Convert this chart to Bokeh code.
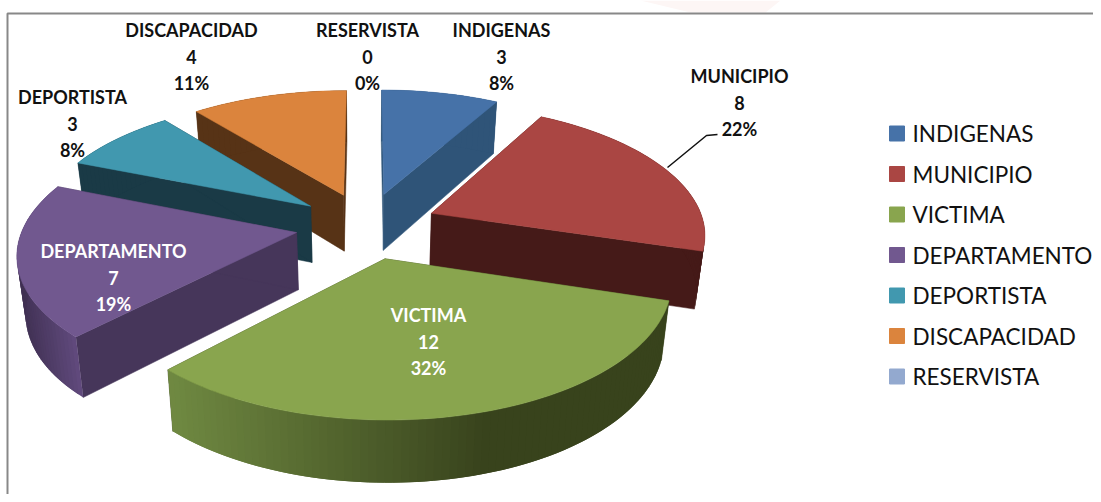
import math
from bokeh.plotting import figure
from bokeh.embed import file_html
from bokeh.resources import INLINE
from bokeh.core.properties import value

categories = ["INDIGENAS", "MUNICIPIO", "VICTIMA", "DEPARTAMENTO", "DEPORTISTA", "DISCAPACIDAD", "RESERVISTA"]
counts = [3, 8, 12, 7, 3, 4, 0]
percents = ["8%", "22%", "32%", "19%", "8%", "11%", "0%"]

top_colors = ["#4672A8", "#AA4643", "#89A54E", "#71588F", "#4198AF", "#DB843D", "#93A9CF"]
face_colors = ["#2F5478", "#451A18", "#3A451D", "#46365A", "#1A3A46", "#573316", "#6C7C99"]
arc_left = ["#2F5478", "#451A18", "#708A42", "#3F3052", "#1A3A46", "#573316", "#6C7C99"]
arc_right = ["#2F5478", "#451A18", "#38431C", "#634C80", "#1A3A46", "#573316", "#6C7C99"]
label_colors = ["#111111", "#111111", "#FFFFFF", "#FFFFFF", "#111111", "#111111", "#111111"]
label_x = [501, 739, 428, 113, 72, 191, 367]
label_y = [29.5, 75.5, 314.5, 250.5, 96.5, 29.5, 29.5]
draw_order = [0, 5, 4, 1, 3, 2, 6]

# projection of the tilted pie
CX, CY, A, B, K, EXPLODE, DEPTH = 366, 225, 273, 127.6, 0.143, 0.26, 57


def project(u, v, z=0.0):
    s = 1 / (1 + K * v)
    x = CX + A * u * s * (1 - 0.025 * z)
    y = CY - B * v * s + DEPTH * z * (1 - 0.08 * v)
    return x, y


def mix(c1, c2, t):
    a = [int(c1[i:i + 2], 16) for i in (1, 3, 5)]
    b = [int(c2[i:i + 2], 16) for i in (1, 3, 5)]
    return "#%02X%02X%02X" % tuple(round(p + (q - p) * t) for p, q in zip(a, b))


total = sum(counts)
starts = []
acc = 0
for c in counts:
    starts.append(acc / total * 2 * math.pi)
    acc += c

p = figure(width=1093, height=494, output_backend="svg", toolbar_location=None,
           x_range=(0, 1093), y_range=(494, 0), min_border=0,
           x_axis_type=None, y_axis_type=None, outline_line_color=None,
           background_fill_color="white", border_fill_color="white")
p.grid.visible = False

# faint watermark remnant above the frame
p.patch([640, 780, 765, 690], [0, 0, 12, 12], fill_color="#FDF6F5", line_color=None)

# frame
p.line([7, 7, 1093], [494, 13, 13], line_color="#888888", line_width=2)

for i in draw_order:
    if counts[i] == 0:
        continue
    t0 = starts[i]
    dt = counts[i] / total * 2 * math.pi
    mid = t0 + dt / 2
    ox, oy = EXPLODE * math.sin(mid), EXPLODE * math.cos(mid)
    n = max(int(dt * 40), 8)
    arc = [(ox + math.sin(t0 + dt * j / n), oy + math.cos(t0 + dt * j / n)) for j in range(n + 1)]

    # radial side faces
    for end in (arc[0], arc[-1]):
        pts = [project(ox, oy), project(*end), project(*end, 1), project(ox, oy, 1)]
        p.patch([q[0] for q in pts], [q[1] for q in pts], fill_color=face_colors[i],
                line_color=face_colors[i], line_width=0.5)

    # outer wall, shaded along its length; each piece overlaps the next to hide seams
    for j in range(n):
        a0, a1 = arc[j], arc[min(j + 2, n)]
        pts = [project(*a0), project(*a1), project(*a1, 1), project(*a0, 1)]
        xm = sum(q[0] for q in pts) / 4
        if i == 2:
            tt = min(max((xm - 165) / 315, 0), 1)
        elif i == 3:
            tt = min(max((xm - 20) / 60, 0), 1)
        else:
            tt = 0
        col = mix(arc_left[i], arc_right[i], tt)
        p.patch([q[0] for q in pts], [q[1] for q in pts], fill_color=col, line_color=None)

    # top surface
    pts = [project(ox, oy)] + [project(*a) for a in arc]
    p.patch([q[0] for q in pts], [q[1] for q in pts], fill_color=top_colors[i], line_color=top_colors[i], line_width=0.5)

# leader line for MUNICIPIO
p.line([667, 706, 717], [167, 135, 134], line_color="#111111", line_width=1.5)

# data labels
for i, name in enumerate(categories):
    for k, txt in enumerate([name, str(counts[i]), percents[i]]):
        p.text([label_x[i]], [label_y[i] + k * 26.5], text=[txt], text_font=value("Lato"),
               text_font_style="bold", text_font_size="18px", text_color=label_colors[i],
               text_align="center", text_baseline="middle")

# legend
legend_y = [133 + 40.5 * j for j in range(len(categories))]
p.scatter([896.5] * len(categories), legend_y, marker="square", size=15, color=top_colors)
p.text([912] * len(categories), legend_y, text=categories, text_font=value("Lato"),
       text_font_size="22.5px", text_color="#111111", text_align="left", text_baseline="middle")

open("out.html", "w").write(file_html(p, INLINE))
